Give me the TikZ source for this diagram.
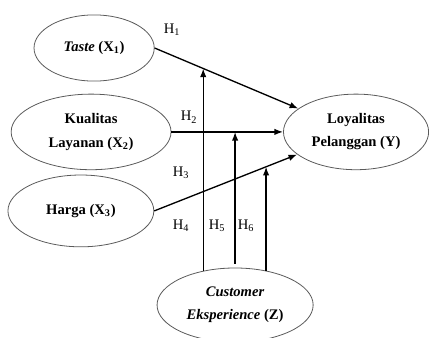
\documentclass[tikz,border=0pt]{standalone}
\usepackage{fontspec}
\setmainfont{Liberation Serif}
\usepackage{tikz}
\usetikzlibrary{shapes,arrows.meta,positioning,calc,intersections}
\definecolor{rimgray}{RGB}{90,90,90}

\begin{document}
\begin{tikzpicture}[
    font=\fontsize{11}{13.5}\selectfont,
    var/.style={ellipse, draw=rimgray, line width=0.6pt, inner sep=0pt, align=center, font=\fontsize{11}{13.5}\selectfont\bfseries},
    path/.style={line width=1pt, -{Latex[length=2.3mm,width=1.7mm]}},
    hyp/.style={inner sep=1pt}
  ]
  \useasboundingbox (0,0) rectangle (11.35,8.94);

  \node[var, minimum width=3.18cm, minimum height=1.75cm] (x1) at (2.49,7.67) {\textit{Taste} (X\textsubscript{1})};
  \node[var, minimum width=4.23cm, minimum height=2.0cm] (x2) at (2.41,5.45) {Kualitas\\[4pt] Layanan (X\textsubscript{2})};
  \node[var, minimum width=3.86cm, minimum height=1.9cm] (x3) at (2.14,3.36) {Harga (X\textsubscript{3})};
  \node[var, minimum width=3.84cm, minimum height=2.0cm] (y) at (9.42,5.45) {Loyalitas\\[4pt] Pelanggan (Y)};
  \node[var, minimum width=4.13cm, minimum height=1.96cm] (z) at (6.22,0.87) {\textit{Customer}\\[4pt] \textit{Eksperience} (Z)};

  % direct paths
  \draw[path, name path=h1] (x1.east) -- (y.158);
  \draw[path, name path=h2] (x2.east) -- (y.west);
  \draw[path, name path=h3] (x3.east) -- (y.201);

  % moderating paths
  \path[name path=v4] (z.133) -- ++(0,6);
  \path[name path=v5] ([yshift=1mm]z.north) -- ++(0,6);
  \path[name path=v6] (z.48) -- ++(0,6);
  \draw[path, name intersections={of=v4 and h1}] (z.133) -- (intersection-1);
  \draw[path, name intersections={of=v5 and h2}] ([yshift=1mm]z.north) -- (intersection-1);
  \draw[path, name intersections={of=v6 and h3}] (z.48) -- (intersection-1);

  \node[hyp] (l1) at (4.55,8.15) {H\textsubscript{1}};
  \node[hyp] (l2) at (5.00,5.84) {H\textsubscript{2}};
  \node[hyp] (l3) at (4.79,4.36) {H\textsubscript{3}};
  \node[hyp] (l4) at (4.79,2.96) {H\textsubscript{4}};
  \node[hyp] (l5) at (5.74,2.96) {H\textsubscript{5}};
  \node[hyp] (l6) at (6.51,2.96) {H\textsubscript{6}};
\end{tikzpicture}
\end{document}
